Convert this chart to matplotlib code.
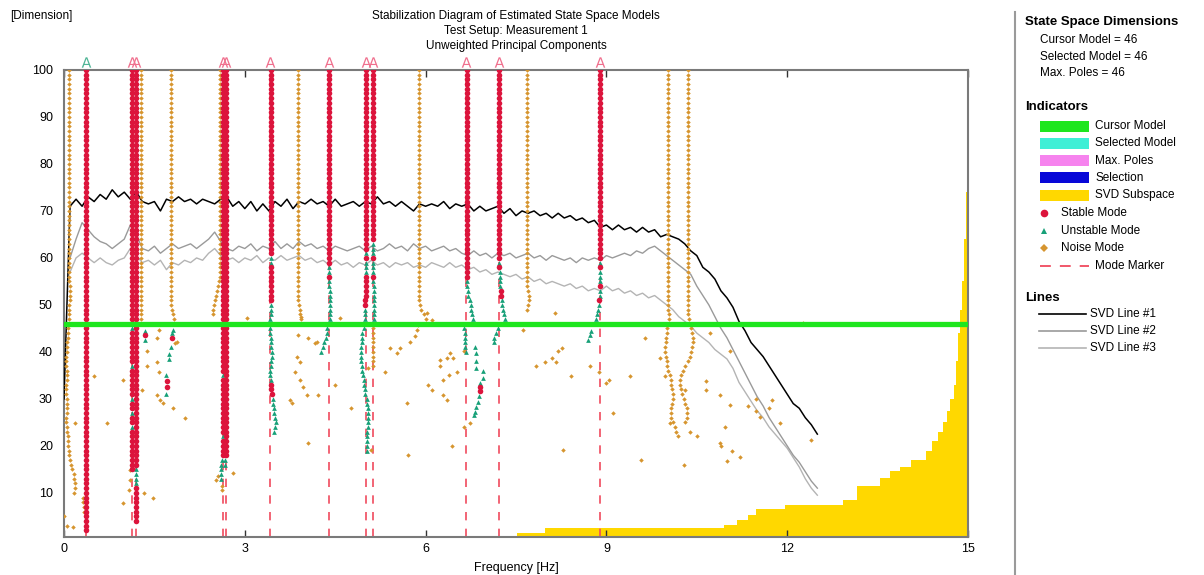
import numpy as np
import matplotlib.pyplot as plt
from matplotlib.patches import Rectangle

plt.rcParams['font.family'] = ['Liberation Sans', 'DejaVu Sans']

# ---------------- data ----------------
svd_freq = np.round(np.arange(0, 12.55, 0.1), 1)
svd_line1 = [30, 71, 72.5, 71, 73, 72, 73.5, 72.5, 74.5, 73,
             74, 72.5, 74, 72, 71.5, 72, 70, 72.5, 72, 73,
             72, 72.5, 71.5, 72.5, 72, 71.5, 72.5, 73, 71, 72,
             70.5, 72, 70, 71.5, 70, 72, 71, 72.5, 70.5, 72,
             71.5, 72.5, 71.5, 72, 71, 72.5, 71, 71.5, 72, 71,
             72, 71.5, 73, 71.5, 72, 71, 72, 71, 70, 71.5,
             71, 71.5, 71, 72, 70.5, 71.5, 71, 71.5, 70, 71,
             70, 70.5, 71, 69.5, 70.5, 69, 70, 69.5, 70, 69,
             69.5, 68.5, 69.5, 68.5, 69, 68, 68.5, 67.5, 68, 66.5,
             67, 66, 67, 66, 66.5, 65.5, 66.5, 65.5, 66, 64.5,
             65, 64.5, 64, 63, 61.5, 60.5, 58, 57, 55.5, 53,
             51.5, 49.5, 46.5, 44.5, 42, 40.5, 39, 37, 35, 33,
             31, 29, 28, 26, 24.5, 22.5]
svd_line2 = [np.nan, 60, 64, 67.5, 66, 64.5, 63.5, 63, 62, 63,
             64, 67, 65, 62, 61.5, 62.5, 61, 62, 63, 62,
             62.5, 63, 62, 63, 64, 65.5, 63.5, 62, 61.5, 62.5,
             62, 63, 61.5, 62.5, 62, 63.5, 62, 63, 62, 63.5,
             62.5, 63, 62, 62.5, 61.5, 62.5, 62, 61.5, 62, 62.5,
             61.5, 62.5, 61.5, 62, 63, 62, 62.5, 61.5, 63, 62,
             62.5, 61.5, 62, 62.5, 61.5, 62, 61, 60.5, 61.5, 60.5,
             61, 60, 61, 60.5, 61, 60, 60.5, 61, 60, 60.5,
             59.5, 60.5, 60, 59.5, 60, 59, 60, 59.5, 60, 59.5,
             60.5, 60, 60.5, 61, 60.5, 61.5, 61, 62, 62.5, 61.5,
             60.5, 59.5, 58.5, 57.5, 56.5, 54, 52, 50, 47.5, 45,
             43, 40.5, 38, 35.5, 33, 30.5, 28.5, 26, 24, 22,
             20, 18, 16.5, 14.5, 12.5, 11]
svd_line3 = [np.nan, 57, 60, 61, 60, 59, 60, 59, 58.5, 59.5,
             60, 62, 60.5, 59, 59.5, 58.5, 59.5, 57.5, 59, 58.5,
             59.5, 59, 60, 59.5, 61, 62, 60.5, 59.5, 60, 59,
             60, 59.5, 60.5, 59, 60, 59.5, 60.5, 59.5, 60, 60.5,
             59.5, 60, 59, 59.5, 58.5, 59.5, 58.5, 59, 58, 59,
             58.5, 59.5, 58.5, 59, 58, 59, 58.5, 59, 58, 58.5,
             58, 59, 58.5, 58, 59, 58, 58.5, 57.5, 58, 57,
             57.5, 56.5, 57, 56.5, 56, 56.5, 55.5, 56, 55, 55.5,
             54.5, 55, 54.5, 54, 54.5, 53.5, 54, 53, 53.5, 53,
             54, 53, 53.5, 52.5, 53, 52, 52.5, 51.5, 52, 51,
             50, 49, 47.5, 46.5, 45.5, 44, 43, 42, 40.5, 39.5,
             38.5, 36.5, 33.5, 31.5, 29.5, 27.5, 26, 24, 22.5, 21,
             19.5, 17.5, 15.5, 13, 11, 9.5]

# SVD subspace (step curve)
subspace_freq = [7.52, 7.98, 10.95, 11.17, 11.35, 11.48, 11.96, 12.93, 13.15, 13.54,
                 13.71, 13.87, 14.06, 14.3, 14.4, 14.5, 14.58, 14.65, 14.7, 14.76,
                 14.8, 14.84, 14.87, 14.9, 14.93, 14.96, 14.99, 15.0]
subspace_dim = [1.4, 2.5, 3.2, 4.3, 5.3, 6.6, 7.5, 8.4, 11.4, 13.2,
                14.6, 15.4, 17, 18.8, 21, 23, 25, 27.5, 30, 33,
                38, 44, 49, 55, 64, 74, 84.5, 84.5]

cursor_model = 46
top_order = 100

# stable pole columns
stab_freq = [0.37, 1.13, 1.195, 2.63, 2.68, 3.43, 4.40, 5.01, 5.13, 6.68, 7.22, 8.89]
stab_low = [2, 15, 4, 18, 20, 57, 59, 62, 64, 56, 60, 60]
stab_unstable = [[], [46, 45, 37, 30, 27, 24], [15, 14, 13, 12], [35, 22], [], [59, 60],
                 [], [], [], [], [], []]
stab_tail_f = [
    [], [], [],
    [2.62, 2.61, 2.60, 2.60, 2.61],
    [2.68, 2.68, 2.67, 2.67],
    [3.43, 3.43, 3.43, 3.43, 3.43, 3.43, 3.43, 3.43, 3.43, 3.42, 3.42,
     3.42, 3.42, 3.43, 3.43, 3.44, 3.45, 3.45, 3.44, 3.43, 3.42, 3.42, 3.43,
     3.44, 3.44, 3.45, 3.46, 3.47, 3.48, 3.49, 3.50, 3.51, 3.50, 3.48],
    [4.40, 4.40, 4.40, 4.40, 4.40, 4.41, 4.41, 4.41, 4.42, 4.42, 4.42, 4.41,
     4.39, 4.37, 4.36, 4.34, 4.31, 4.29, 4.27],
    [5.01, 5.01, 5.01, 5.01, 5.01, 5.01, 5.01, 5.01, 5.01, 5.01, 5.00, 5.00,
     5.00, 5.00, 4.99, 4.98, 4.97, 4.95, 4.95, 4.94, 4.93, 4.93, 4.93, 4.93,
     4.94, 4.95, 4.96, 4.97, 4.98, 4.99, 5.00, 5.02, 5.03, 5.04, 5.05, 5.05,
     5.04, 5.04, 5.03, 5.03, 5.03, 5.02, 5.02],
    [5.13, 5.13, 5.13, 5.13, 5.13, 5.13, 5.13, 5.13, 5.13, 5.14, 5.14, 5.14,
     5.14, 5.14, 5.14, 5.14, 5.14, 5.14, 5.13, 5.13, 5.13, 5.12, 5.12, 5.12,
     5.12, 5.12, 5.12],
    [6.68, 6.69, 6.70, 6.71, 6.73, 6.75, 6.76, 6.77, 6.78, 6.64, 6.64, 6.65,
     6.65, 6.66, 6.66, 6.67],
    [7.22, 7.22, 7.23, 7.23, 7.24, 7.24, 7.25, 7.25, 7.26, 7.27, 7.28, 7.30,
     7.32, 7.34],
    [8.89, 8.89, 8.89, 8.89, 8.89, 8.89, 8.89, 8.89, 8.88, 8.87, 8.86, 8.84, 8.82],
]
stab_tail_kind = [
    "", "", "",
    "uuuuu",
    "ssuu",
    "ssssss" + "uuuuu" + "uuuuuuuuuuuu" + "sss" + "uuuuuuuu",
    "uusuuuuuuuuuuuuuuuu",
    "usuuusssssssuuuu" + "u" * 27,
    "uuusuuusuuuuuuuuuu" + "nnnnnnnnn",
    "u" * 16,
    "usuuuussuuuuuu",
    "usuuusuusuuuu",
]

# noise pole columns
noise_col_freq = [0.08, 1.27, 1.77, 2.59, 3.88, 5.89, 7.68, 10.02, 10.36]
noise_col_low = [55, 46, 50, 56, 52, 51, 55, 50, 48]
noise_tail_f = [
    [0.10, 0.10, 0.10, 0.10, 0.09, 0.09, 0.09, 0.08, 0.08,
     0.07, 0.06, 0.06, 0.05, 0.05, 0.05, 0.04, 0.04, 0.04, 0.05, 0.05, 0.05, 0.04,
     0.04, 0.04, 0.05, 0.05, 0.05, 0.05, 0.04, 0.04, 0.05, 0.05, 0.06, 0.06, 0.07,
     0.08, 0.09, 0.10, 0.12, 0.14, 0.16, 0.17, 0.18, 0.18, 0.17],
    [],
    [1.79, 1.81, 1.82, 1.82],
    [2.58, 2.56, 2.54, 2.52, 2.50, 2.49, 2.48, 2.48],
    [3.89, 3.90, 3.91, 3.92, 3.93, 3.94],
    [5.90, 5.93, 5.97, 6.00],
    [7.69, 7.70, 7.71, 7.71, 7.70, 7.69],
    [10.03, 10.04, 10.04, 10.03, 10.01, 10.00, 9.99, 9.99, 9.98, 9.98, 9.99, 10.00,
     10.01, 10.03, 10.05, 10.07, 10.08, 10.09, 10.10, 10.10, 10.09, 10.08, 10.07,
     10.08, 10.10, 10.13, 10.16, 10.19],
    [10.37, 10.39, 10.40, 10.42, 10.43, 10.43, 10.42, 10.40, 10.38, 10.35, 10.31,
     10.27, 10.24, 10.22, 10.22, 10.24, 10.26, 10.29, 10.31, 10.33, 10.34, 10.33, 10.31],
]

# isolated noise poles
noise_pt_f = [0.18, 0.71, 0.49, 0.98, 0.98, 1.32, 1.48, 1.29, 1.37, 1.37, 1.57, 1.54, 1.54,
              1.57, 1.54, 1.59, 1.65, 1.81, 1.84, 1.87, 2.00, 1.10, 1.10, 1.08, 2.81, 2.53,
              2.55, 2.62, 2.62, 3.03, 3.86, 3.91, 3.83, 3.92, 3.97, 4.03, 3.75, 3.78, 4.22,
              4.50, 4.05, 3.89, 4.05, 3.93, 4.16, 4.19, 4.58, 4.77, 5.05, 5.10, 5.33, 5.41,
              5.52, 5.58, 5.74, 5.82, 5.85, 5.87, 5.69, 5.71, 6.02, 6.10, 6.04, 6.10, 6.24,
              6.24, 6.35, 6.40, 6.46, 6.29, 6.38, 6.29, 6.35, 6.52, 6.63, 6.43, 6.63, 6.74,
              7.62, 8.15, 7.84, 7.98, 8.09, 8.17, 8.20, 8.26, 8.42, 8.73, 8.87, 9.00, 9.05,
              9.11, 9.39, 8.28, 9.58, 9.64, 9.89, 9.97, 10.05, 10.28, 10.30, 10.39, 10.50,
              10.66, 10.66, 10.72, 10.88, 10.88, 10.90, 10.97, 11.00, 11.05, 11.08, 11.22,
              11.05, 11.35, 11.49, 11.49, 11.55, 11.69, 11.74, 11.88, 12.27, 12.40, 11.16,
              0.31, 0.32, 0.33, 0.34, 0.05, 0.15, 0.00]
noise_pt_d = [24.8, 24.8, 34.8, 34.0, 7.8, 10.0, 8.9, 31.9, 40.1, 36.9, 44.7, 42.9, 37.9,
              35.8, 30.9, 29.8, 29.1, 28.0, 41.8, 42.2, 25.9, 14.9, 12.8, 10.5, 14.2, 12.8,
              13.5, 11.5, 10.5, 47.2, 39.0, 37.9, 35.8, 34.0, 32.6, 30.9, 29.8, 29.1, 30.9,
              33.0, 20.6, 43.6, 42.9, 47.5, 41.8, 42.2, 47.2, 28.0, 36.6, 19.1, 35.8, 40.8,
              39.7, 40.8, 42.2, 43.3, 44.7, 45.7, 29.1, 18.1, 48.2, 46.8, 33.0, 31.9, 38.3,
              36.9, 38.7, 39.7, 38.7, 34.0, 35.1, 30.9, 29.8, 35.8, 40.1, 19.9, 24.1, 24.8,
              44.7, 48.2, 36.9, 37.9, 38.7, 37.9, 40.1, 40.8, 34.8, 36.9, 35.8, 33.3, 34.0,
              26.9, 34.8, 19.1, 17.0, 42.9, 38.7, 34.8, 24.8, 16.0, 31.9, 23.0, 22.0,
              33.7, 31.9, 44.0, 30.9, 20.6, 20.0, 24.1, 16.7, 28.7, 18.8, 17.7,
              40.1, 28.4, 30.0, 27.5, 26.2, 28.0, 29.8, 24.8, 46.1, 21.3, 46.0,
              9.0, 8.0, 7.0, 6.0, 3.0, 2.8, 5.0]

# isolated unstable / stable poles
unstable_pt_f = [1.35, 1.34, 1.81, 1.80, 1.77, 1.75, 1.74, 1.69, 1.70,
                 6.82, 6.83, 6.84, 6.84, 6.96, 6.95, 6.90, 6.89, 6.87, 6.84, 6.82, 6.80,
                 7.20, 7.17, 7.14, 7.13, 8.79, 8.74, 8.72, 8.70]
unstable_pt_d = [44.5, 42.5, 44.7, 44.0, 41.0, 39.5, 38.5, 35.0, 31.0,
                 41.0, 39.8, 38.0, 36.5, 36.0, 34.5, 33.3, 30.6, 29.4, 28.3, 27.3, 26.6,
                 45.0, 44.0, 43.0, 42.0, 46.0, 44.5, 43.5, 42.5]
stable_pt_f = [1.35, 1.79, 1.71, 1.71, 6.90, 6.90]
stable_pt_d = [43.5, 43.0, 33.7, 32.5, 32.6, 31.7]

# mode markers
mode_marker_freq = [0.37, 1.13, 1.19, 2.63, 2.69, 3.42, 4.40, 5.01, 5.12, 6.67, 7.21, 8.89]
mode_marker_color = ["#4fb596"] + ["#f0708e"] * 11

x_ticks = [0, 3, 6, 9, 12, 15]
y_ticks = [10, 20, 30, 40, 50, 60, 70, 80, 90, 100]

dim_labels = ["Cursor Model = 46", "Selected Model = 46", "Max. Poles = 46"]
indicator_labels = ["Cursor Model", "Selected Model", "Max. Poles", "Selection", "SVD Subspace"]
indicator_colors = ["#1ee61e", "#3fefd6", "#f683ee", "#0808d8", "#ffd800"]
mode_labels = ["Stable Mode", "Unstable Mode", "Noise Mode", "Mode Marker"]
line_labels = ["SVD Line #1", "SVD Line #2", "SVD Line #3"]

STABLE_C = "#dc143c"
UNSTABLE_C = "#17a078"
NOISE_C = "#d6952f"
LINE_COLORS = ["#000000", "#9a9a9a", "#b4b4b4"]


def collect(freqs, lows, tails_f, tails_k, default_kind, unstable):
    pts = {"s": ([], []), "u": ([], []), "n": ([], [])}
    for i, f in enumerate(freqs):
        for o in range(lows[i], top_order + 1):
            k = "u" if o in unstable[i] else default_kind
            pts[k][0].append(f)
            pts[k][1].append(o)
        for j, (tf, tk) in enumerate(zip(tails_f[i], tails_k[i])):
            pts[tk][0].append(tf)
            pts[tk][1].append(lows[i] - 1 - j)
    return pts


W, H = 1204, 575
fig = plt.figure(figsize=(W / 100, H / 100), dpi=100)
ax = fig.add_axes([64 / W, 1 - 537 / H, 904 / W, 467 / H])
ax.set_xlim(0, 15)
ax.set_ylim(0.6, 100)

# subspace fill
ax.fill_between(subspace_freq, 0, subspace_dim, step="post", color="#ffd800", lw=0, zorder=1)

# mode markers
for f in mode_marker_freq:
    ax.axvline(f, color="#f04a5e", lw=1.2, dashes=(5, 5), zorder=2)

# svd lines
ax.plot(svd_freq, svd_line3, color=LINE_COLORS[2], lw=1.0, zorder=3)
ax.plot(svd_freq, svd_line2, color=LINE_COLORS[1], lw=1.0, zorder=3)
ax.plot(svd_freq, svd_line1, color=LINE_COLORS[0], lw=1.1, zorder=3)

stab = collect(stab_freq, stab_low, stab_tail_f, stab_tail_kind, "s", stab_unstable)
noise = collect(noise_col_freq, noise_col_low, noise_tail_f,
                ["n" * len(t) for t in noise_tail_f], "n", [[]] * len(noise_col_freq))

nx = noise["n"][0] + stab["n"][0] + noise_pt_f
ny = noise["n"][1] + stab["n"][1] + noise_pt_d
ax.plot(nx, ny, "D", ms=2.3, color=NOISE_C, mew=0, zorder=4)
ux = stab["u"][0] + unstable_pt_f
uy = stab["u"][1] + unstable_pt_d
ax.plot(ux, uy, "^", ms=3.4, color=UNSTABLE_C, mew=0, zorder=5)
sx = stab["s"][0] + stable_pt_f
sy = stab["s"][1] + stable_pt_d
ax.plot(sx, sy, "o", ms=4.0, color=STABLE_C, mew=0, zorder=6)

# cursor model line
ax.axhline(cursor_model, color="#1ee61e", lw=3.8, zorder=7)

# "A" glyph markers above the frame
for f, c in zip(mode_marker_freq, mode_marker_color):
    ax.plot([f], [101.7], marker=r"$\mathrm{A}$", ms=7.5, color=c, mew=0,
            clip_on=False, zorder=8)

for s in ax.spines.values():
    s.set_color("#7a7a7a")
    s.set_linewidth(1.5)
ax.set_xticks(x_ticks)
ax.set_yticks(y_ticks)
ax.tick_params(axis="x", direction="in", top=True, length=5, width=1, color="#333333",
               labelsize=9, pad=4)
ax.tick_params(axis="y", length=0, labelsize=9, pad=8)
ax.set_xlabel("Frequency [Hz]", fontsize=9, labelpad=5)

fig.text(10 / W, 1 - 16 / H, "[Dimension]", fontsize=8.5, va="center")
for i, t in enumerate(["Stabilization Diagram of Estimated State Space Models",
                       "Test Setup: Measurement 1",
                       "Unweighted Principal Components"]):
    fig.text(516 / W, 1 - (16 + 15 * i) / H, t, fontsize=8.5, ha="center", va="center")

# ---------------- side panel ----------------
lax = fig.add_axes([1010 / W, 0, 194 / W, 1])
lax.set_xlim(1010, 1204)
lax.set_ylim(575, 0)
lax.axis("off")
lax.plot([1015, 1015], [12, 575], color="#9a9a9a", lw=1.5)

hdr = dict(fontsize=9.5, fontweight="bold", va="center")
txt = dict(fontsize=8.5, va="center")
lax.text(1025, 22, "State Space Dimensions", **hdr)
for i, t in enumerate(dim_labels):
    lax.text(1040, 40 + 16.5 * i, t, **txt)

lax.text(1025, 107, "Indicators", **hdr)
for i, (t, c) in enumerate(zip(indicator_labels, indicator_colors)):
    y = 126 + 17.3 * i
    lax.add_patch(Rectangle((1040, y - 5.5), 49, 11, color=c, lw=0))
    lax.text(1095, y, t, **txt)

my = [213 + 17.6 * i for i in range(4)]
lax.plot([1044], [my[0]], "o", ms=5.5, color=STABLE_C, mew=0)
lax.plot([1044], [my[1]], "^", ms=5, color=UNSTABLE_C, mew=0)
lax.plot([1044], [my[2]], "D", ms=4, color=NOISE_C, mew=0)
lax.plot([1040, 1089], [my[3], my[3]], color="#f04a5e", lw=1.3, dashes=(6, 5))
for i, t in enumerate(mode_labels):
    lax.text(1061 if i < 3 else 1095, my[i], t, **txt)

lax.text(1025, 298, "Lines", **hdr)
for i, (t, c) in enumerate(zip(line_labels, LINE_COLORS)):
    y = 314 + 17 * i
    lax.plot([1039, 1086], [y, y], color=c, lw=1.2)
    lax.text(1090, y, t, **txt)

fig.savefig("out.png", dpi=100)
